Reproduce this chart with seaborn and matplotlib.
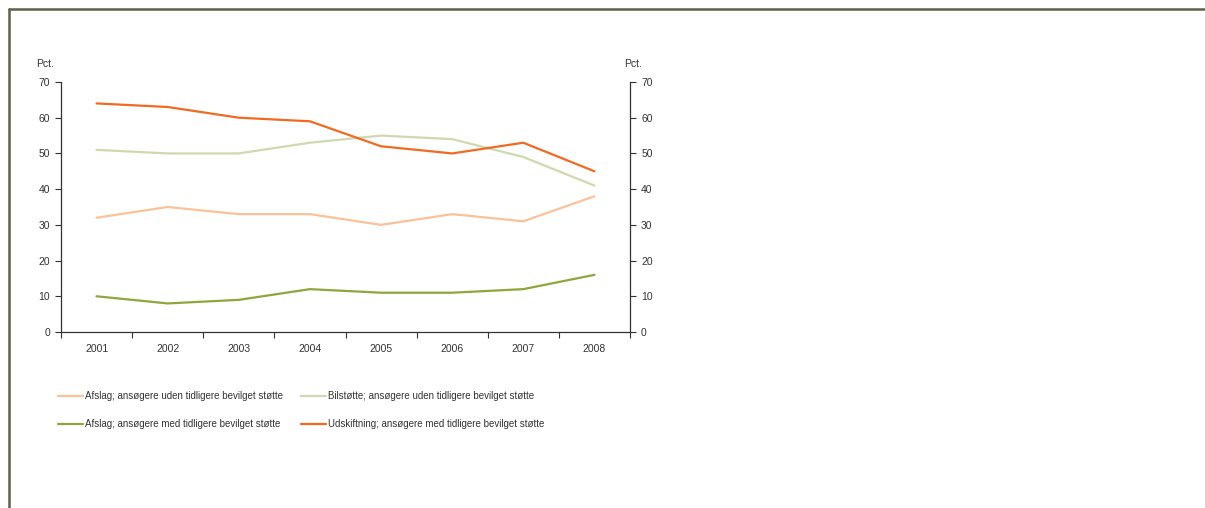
import seaborn as sns
import matplotlib.pyplot as plt
import pandas as pd
import numpy as np

# data (pct.)
years = ["2001", "2002", "2003", "2004", "2005", "2006", "2007", "2008"]
afslag_uden = [32, 35, 33, 33, 30, 33, 31, 38]
bilstotte_uden = [51, 50, 50, 53, 55, 54, 49, 41]
afslag_med = [10, 8, 9, 12, 11, 11, 12, 16]
udskiftning_med = [64, 63, 60, 59, 52, 50, 53, 45]

series_names = [
    "Afslag; ansøgere uden tidligere bevilget støtte",
    "Afslag; ansøgere med tidligere bevilget støtte",
    "Bilstøtte; ansøgere uden tidligere bevilget støtte",
    "Udskiftning; ansøgere med tidligere bevilget støtte",
]
series_values = [afslag_uden, afslag_med, bilstotte_uden, udskiftning_med]
colors = ["#FBC29A", "#8FA63C", "#CFD9AF", "#F26A21"]

df = pd.DataFrame({
    "Year": np.tile(years, len(series_names)),
    "Pct": np.concatenate(series_values),
    "Series": np.repeat(series_names, len(years)),
})

sns.set_style("white")
plt.rcParams["font.family"] = ["Liberation Sans", "DejaVu Sans"]
plt.rcParams["font.size"] = 7
text_color = "#333333"
tick_size = 7.5

fig = plt.figure(figsize=(12.05, 5.08), dpi=100)
ax = fig.add_axes([61 / 1205, 1 - 332 / 508, (630 - 61) / 1205, (332 - 82) / 508])

sns.lineplot(data=df, x="Year", y="Pct", hue="Series", hue_order=series_names,
             palette=colors, linewidth=1.6, ax=ax, legend=False, sort=False)

ax.set_xlim(-0.5, 7.5)
ax.set_ylim(0, 70)
ax.set_yticks(range(0, 71, 10))
ax.set_xlabel("")
ax.set_ylabel("")

# category boundaries get the tick marks, labels sit between them
ax.set_xticks(np.arange(-0.5, 8, 1))
ax.set_xticklabels([])
ax.set_xticks(range(len(years)), minor=True)
ax.set_xticklabels(years, minor=True)
ax.tick_params(axis="x", which="major", direction="out", length=4, width=0.8,
               color="#333333", bottom=True)
ax.tick_params(axis="x", which="minor", length=0, pad=9, labelcolor=text_color,
               labelsize=tick_size)
ax.tick_params(axis="y", direction="out", length=4, width=0.8, color="#333333",
               left=True, labelcolor=text_color, pad=4, labelsize=tick_size)

for side in ["top", "right"]:
    ax.spines[side].set_visible(False)
for side in ["left", "bottom"]:
    ax.spines[side].set_color("#333333")
    ax.spines[side].set_linewidth(0.9)

ax2 = ax.twinx()
ax2.set_ylim(0, 70)
ax2.set_yticks(range(0, 71, 10))
ax2.tick_params(axis="y", direction="out", length=4, width=0.8, color="#333333",
                right=True, labelcolor=text_color, pad=4, labelsize=tick_size)
for side in ["top", "left", "bottom"]:
    ax2.spines[side].set_visible(False)
ax2.spines["right"].set_color("#333333")
ax2.spines["right"].set_linewidth(0.9)

fig.text(45 / 1205, 1 - 64 / 508, "Pct.", color=text_color, ha="center",
         va="center", fontsize=tick_size)
fig.text(633 / 1205, 1 - 64 / 508, "Pct.", color=text_color, ha="center",
         va="center", fontsize=tick_size)

# legend below the plot, two columns
handles = [plt.Line2D([], [], color=c, linewidth=1.6) for c in colors]
fig.legend(handles, series_names, loc="upper left",
           bbox_to_anchor=(58 / 1205, 1 - 391 / 508), ncol=2, frameon=False,
           handlelength=2.6, handletextpad=0.2, columnspacing=1.8,
           labelspacing=1.85, borderpad=0, borderaxespad=0,
           labelcolor=text_color)

# outer frame of the figure box
frame_color = "#5F5F4B"
fig.add_artist(plt.Line2D([9 / 1205, 1], [1 - 9 / 508, 1 - 9 / 508],
                          color=frame_color, linewidth=1.8, transform=fig.transFigure))
fig.add_artist(plt.Line2D([9 / 1205, 9 / 1205], [0, 1 - 9 / 508],
                          color=frame_color, linewidth=1.8, transform=fig.transFigure))

fig.savefig("out.png", dpi=100)
plt.close(fig)
